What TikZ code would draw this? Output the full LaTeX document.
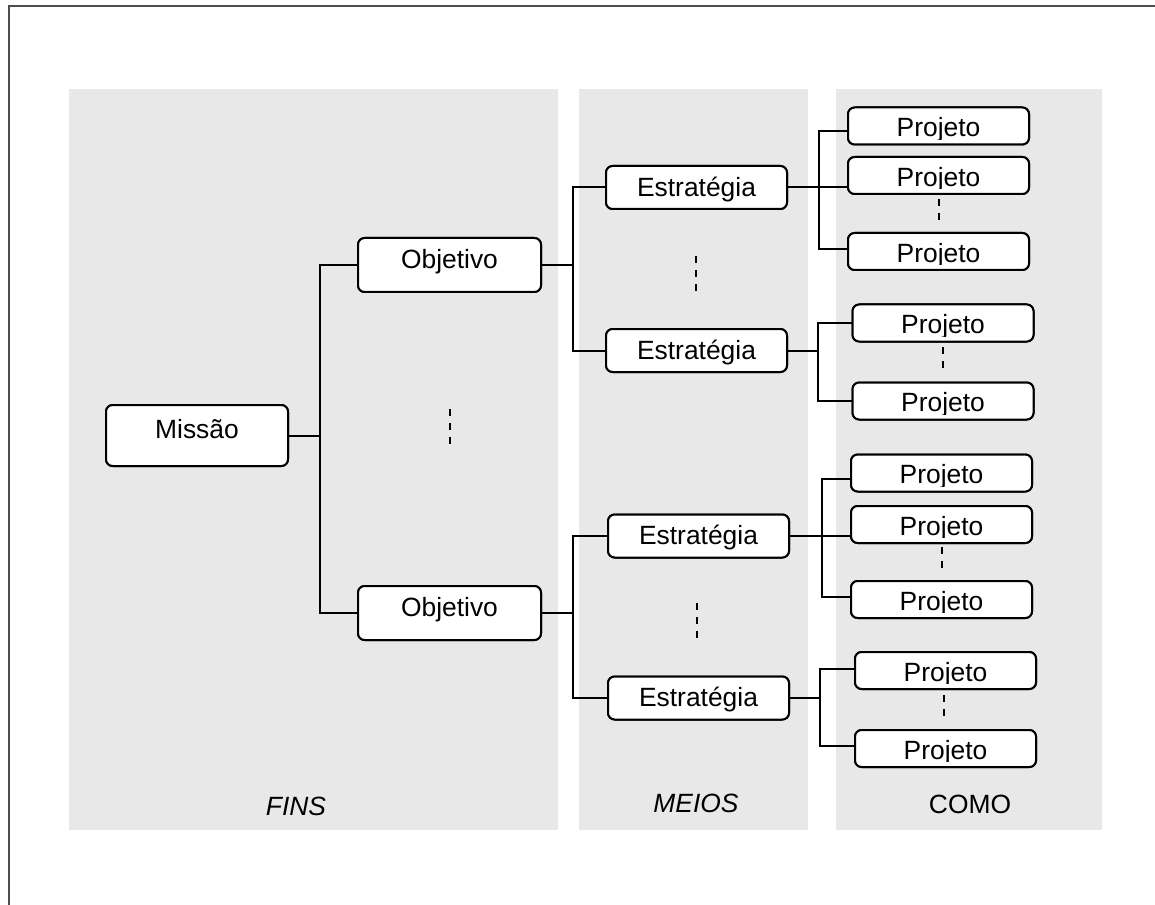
\documentclass[tikz,border=0pt]{standalone}
\usepackage{fontspec}
\setmainfont{Liberation Sans}
\definecolor{panel}{HTML}{E8E8E8}
\definecolor{frame}{HTML}{4D4D4D}
\begin{document}
\begin{tikzpicture}[x=0.75pt,y=-0.75pt,
  txt/.style={inner sep=0pt, font=\fontsize{19.8pt}{23pt}\selectfont},
  box/.style={draw=black, line width=1.5pt, rounded corners=5pt, fill=white, inner sep=0pt},
  missbox/.style={box, minimum width=136.5pt, minimum height=45.75pt},
  objbox/.style={box, minimum width=137.25pt, minimum height=40.5pt},
  estbox/.style={box, minimum width=135.75pt, minimum height=32.25pt},
  projbox/.style={box, minimum width=135.75pt, minimum height=27.75pt},
  wire/.style={draw=black, line width=1.5pt},
  ellipsis/.style={draw=black, line width=1.5pt, dash pattern=on 5.6pt off 4.9pt},
  paneltitle/.style={txt, anchor=base}
]
\useasboundingbox (0,0) rectangle (1155,905);

% column panels
\fill[panel] (69,89) rectangle (558,830);
\fill[panel] (579,89) rectangle (808,830);
\fill[panel] (836,89) rectangle (1102,830);

% outer frame
\draw[frame, line width=1.5pt] (9,905) -- (9,6) -- (1155,6);

% boxes
\node[missbox] (mis) at (197,435.5) {};
\node[objbox] (o1) at (449.5,265) {};
\node[objbox] (o2) at (449.5,613) {};
\node[estbox] (e1) at (696.5,187.5) {};
\node[estbox] (e2) at (696.5,350.5) {};
\node[estbox] (e3) at (698.5,536) {};
\node[estbox] (e4) at (698.5,698) {};
\node[projbox] (pa) at (938.5,126) {};
\node[projbox] (pb) at (938.5,175.5) {};
\node[projbox] (pc) at (938.5,251.5) {};
\node[projbox] (pd) at (943,323) {};
\node[projbox] (pe) at (943,401) {};
\node[projbox] (pf) at (941.5,473) {};
\node[projbox] (pg) at (941.5,524.5) {};
\node[projbox] (ph) at (941.5,599.5) {};
\node[projbox] (pi) at (945.5,670.5) {};
\node[projbox] (pj) at (945.5,748.5) {};

% vertical buses
\coordinate (busM) at (320,0);
\coordinate (busO) at (573,0);
\coordinate (busA) at (819,0);
\coordinate (busB) at (818,0);
\coordinate (busC) at (821.5,0);
\coordinate (busD) at (820,0);

% mission to objectives
\draw[wire] (mis.east) -- (mis.east -| busM);
\draw[wire] (o1.west) -- (o1.west -| busM) -- (o2.west -| busM) -- (o2.west);

% objectives to strategies
\draw[wire] (o1.east) -- (o1.east -| busO);
\draw[wire] (e1.west) -- (e1.west -| busO) -- (e2.west -| busO) -- (e2.west);
\draw[wire] (o2.east) -- (o2.east -| busO);
\draw[wire] (e3.west) -- (e3.west -| busO) -- (e4.west -| busO) -- (e4.west);

% strategies to projects
\coordinate (pa-in) at ([yshift=-3.75pt]pa.west);
\coordinate (pc-in) at ([yshift=1.9pt]pc.west);
\draw[wire] (e1.east) -- (e1.east -| pb.west);
\draw[wire] (pa-in) -- (pa-in -| busA) -- (pc-in -| busA) -- (pc-in);

\draw[wire] (e2.east) -- (e2.east -| busB);
\draw[wire] (pd.west) -- (pd.west -| busB) -- (pe.west -| busB) -- (pe.west);

\coordinate (pf-in) at ([yshift=-4.5pt]pf.west);
\coordinate (ph-in) at ([yshift=1.9pt]ph.west);
\draw[wire] (e3.east) -- (e3.east -| pg.west);
\draw[wire] (pf-in) -- (pf-in -| busC) -- (ph-in -| busC) -- (ph-in);

\coordinate (pi-in) at ([yshift=1.1pt]pi.west);
\coordinate (pj-in) at ([yshift=1.9pt]pj.west);
\draw[wire] (e4.east) -- (e4.east -| busD);
\draw[wire] (pi-in) -- (pi-in -| busD) -- (pj-in -| busD) -- (pj-in);

% redraw boxes over wire ends
\foreach \b/\s in {mis/missbox,o1/objbox,o2/objbox,e1/estbox,e2/estbox,e3/estbox,e4/estbox,
                   pa/projbox,pb/projbox,pc/projbox,pd/projbox,pe/projbox,pf/projbox,pg/projbox,ph/projbox,pi/projbox,pj/projbox}
  \node[\s] at (\b.center) {};

% box texts
\node[txt, anchor=base] (mis-t) at ([yshift=-2.1pt]mis.center) {Missão};
\node[txt, anchor=base] (o1-t) at ([yshift=-2.6pt]o1.center) {Objetivo};
\node[txt, anchor=base] (o2-t) at ([yshift=-2.6pt]o2.center) {Objetivo};
\foreach \e in {e1,e2,e3,e4}
  \node[txt, anchor=base] (\e-t) at ([yshift=-6.5pt]\e.center) {Estratégia};
\foreach \p in {pa,pb,pc,pd,pe,pf,pg,ph,pi,pj}{
  \begin{scope}
    \clip (\p.north west) rectangle ([yshift=4.7pt]\p.south east);
    \node[txt, anchor=base] (\p-t) at ([yshift=-7.9pt]\p.center) {Projeto};
  \end{scope}
}

% ellipsis marks
\draw[ellipsis] (450,409) -- (450,445);
\draw[ellipsis] (696,256) -- (696,291);
\draw[ellipsis] (697,603) -- (697,638);
\draw[ellipsis] (939,199) -- (939,221);
\draw[ellipsis] (943,347) -- (943,369);
\draw[ellipsis] (941.5,547) -- (941.5,569);
\draw[ellipsis] (944,695) -- (944,717);

% column titles
\node[paneltitle, font=\fontsize{19.8pt}{23pt}\selectfont\itshape] (fins) at (296,815) {FINS};
\node[paneltitle, font=\fontsize{19.8pt}{23pt}\selectfont\itshape] (meios) at (696,812) {MEIOS};
\node[paneltitle] (como) at (970,813) {COMO};
\end{tikzpicture}
\end{document}
